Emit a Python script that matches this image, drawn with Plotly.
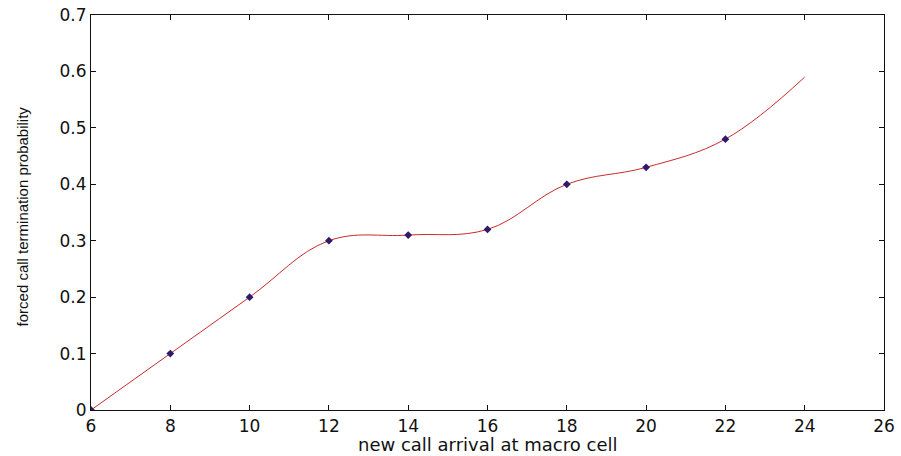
import plotly.graph_objects as go

# Data
arrival = [6, 8, 10, 12, 14, 16, 18, 20, 22]
termination_prob = [0.0, 0.10, 0.20, 0.30, 0.31, 0.32, 0.40, 0.43, 0.48]
# smooth curve continues to x=24
curve_x = arrival + [24]
curve_y = termination_prob + [0.59]

x_ticks = [6, 8, 10, 12, 14, 16, 18, 20, 22, 24, 26]
y_ticks = [0, 0.1, 0.2, 0.3, 0.4, 0.5, 0.6, 0.7]
y_tick_text = ["0", "0.1", "0.2", "0.3", "0.4", "0.5", "0.6", "0.7"]

fig = go.Figure()
fig.add_trace(go.Scatter(
    x=curve_x, y=curve_y, mode="lines",
    line=dict(color="#cc2a2a", width=1, shape="spline", smoothing=1.1),
    hoverinfo="skip", showlegend=False))
fig.add_trace(go.Scatter(
    x=arrival, y=termination_prob, mode="markers",
    marker=dict(symbol="diamond", size=6, color="#2e1a6a"),
    showlegend=False))

tick_font = dict(family="DejaVu Sans", size=17, color="#111111")
axis_common = dict(showgrid=False, zeroline=False, showline=True, linecolor="#111111",
                   linewidth=1.2, mirror="ticks", ticks="inside", ticklen=5,
                   tickcolor="#111111", tickwidth=1.2, tickfont=tick_font,
                   automargin=False)

fig.update_layout(
    width=901, height=456,
    margin=dict(l=91, r=17, t=15, b=46, autoexpand=False),
    paper_bgcolor="white", plot_bgcolor="white",
    xaxis=dict(range=[6, 26], tickvals=x_ticks, **axis_common),
    yaxis=dict(range=[0, 0.7], tickvals=y_ticks, ticktext=y_tick_text, **axis_common),
    annotations=[
        dict(text="new call arrival at macro cell", xref="paper", yref="paper",
             x=0.5, y=0, yshift=-34, yanchor="middle", xanchor="center", showarrow=False,
             font=dict(family="DejaVu Sans", size=18, color="#111111")),
        dict(text="forced call termination probability", xref="paper", yref="paper",
             x=0, xshift=-69, y=0.49, textangle=-90, xanchor="center", yanchor="middle",
             showarrow=False,
             font=dict(family="Liberation Sans Narrow, Liberation Sans", size=15, color="#111111")),
    ],
)

fig.write_html("out.html", config={"displayModeBar": False},
               post_script="document.body.style.margin='0px';document.body.style.overflow='hidden';")
